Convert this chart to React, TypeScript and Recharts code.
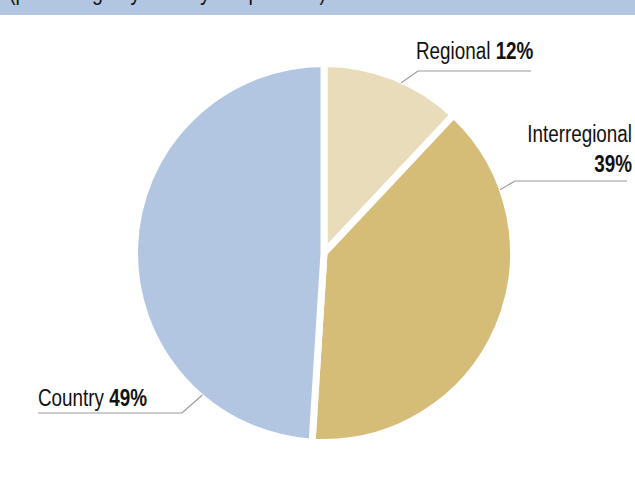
import React from 'react';
import { PieChart, Pie, Cell } from 'recharts';

const categories = ['Regional', 'Interregional', 'Country'];
const shares = [12, 39, 49];
const valueLabels = ['12%', '39%', '49%'];
const colors = ['#E9DCBB', '#D6BD77', '#B2C6E1'];
const headerText = '(percentage by country of operation)';

const data = categories.map((name, i) => ({ name, value: shares[i] }));

const FONT = "'Liberation Sans', Arial, sans-serif";
const FS = 23;
const NARROW = 0.82;
const STROKE = 7;

// leader-line layout, relative to pie centre
const LABEL_LAYOUT = [
  { angle: 65.6, elbow: [94, -182], endX: 207, tx: 92, ty: -194, anchor: 'start', twoLine: false, ty2: 0 },
  { angle: 19.8, elbow: [191, -72], endX: 303, tx: 308, ty: -111, anchor: 'end', twoLine: true, ty2: -81 },
  { angle: 229.4, elbow: [-142, 160], endX: -286, tx: -286, ty: 153, anchor: 'start', twoLine: false, ty2: 0 },
];

const NarrowText = ({ x, y, anchor, weight, size, children }: any) => (
  <text
    transform={`translate(${x},${y}) scale(${NARROW},1)`}
    x={0}
    y={0}
    textAnchor={anchor}
    fontFamily={FONT}
    fontSize={size || FS}
    fontWeight={weight || 'normal'}
    fill="#111"
  >
    {children}
  </text>
);

const renderLabel = (props: any) => {
  const { cx, cy, outerRadius, index } = props;
  const L = LABEL_LAYOUT[index];
  const r = outerRadius - STROKE / 2 + 1;
  const rad = (L.angle * Math.PI) / 180;
  const sx = cx + r * Math.cos(rad);
  const sy = cy - r * Math.sin(rad);
  const ex = cx + L.elbow[0];
  const ey = cy + L.elbow[1];
  const fx = cx + L.endX;
  return (
    <g key={`lbl-${index}`}>
      <polyline
        points={`${sx},${sy} ${ex},${ey} ${fx},${ey}`}
        fill="none"
        stroke="#9a9a9a"
        strokeWidth={1.2}
      />
      {L.twoLine ? (
        <>
          <NarrowText x={cx + L.tx} y={cy + L.ty} anchor={L.anchor}>
            {categories[index]}
          </NarrowText>
          <NarrowText x={cx + L.tx} y={cy + L.ty2} anchor={L.anchor} weight="bold">
            {valueLabels[index]}
          </NarrowText>
        </>
      ) : (
        <NarrowText x={cx + L.tx} y={cy + L.ty} anchor={L.anchor}>
          <tspan>{categories[index]} </tspan>
          <tspan fontWeight="bold">{valueLabels[index]}</tspan>
        </NarrowText>
      )}
    </g>
  );
};

export default function App() {
  return (
    <div style={{ position: 'absolute', left: 0, top: 0, width: 635, height: 482, background: '#fff' }}>
      <svg width={635} height={15} style={{ position: 'absolute', left: 0, top: 0, zIndex: 2 }}>
        <rect x={0} y={0} width={635} height={15} fill="#B2C6E1" />
        <NarrowText x={9} y={0} anchor="start" size={24}>{headerText}</NarrowText>
      </svg>
      <PieChart width={635} height={482} margin={{ top: 0, right: 0, bottom: 0, left: 0 }}>
        <Pie
          data={data}
          dataKey="value"
          nameKey="name"
          cx={324}
          cy={253}
          innerRadius={0}
          outerRadius={189.5}
          startAngle={90}
          endAngle={-270}
          stroke="#ffffff"
          strokeWidth={STROKE}
          label={renderLabel}
          labelLine={false}
          isAnimationActive={false}
        >
          {data.map((d, i) => (
            <Cell key={d.name} fill={colors[i]} />
          ))}
        </Pie>
      </PieChart>
    </div>
  );
}
